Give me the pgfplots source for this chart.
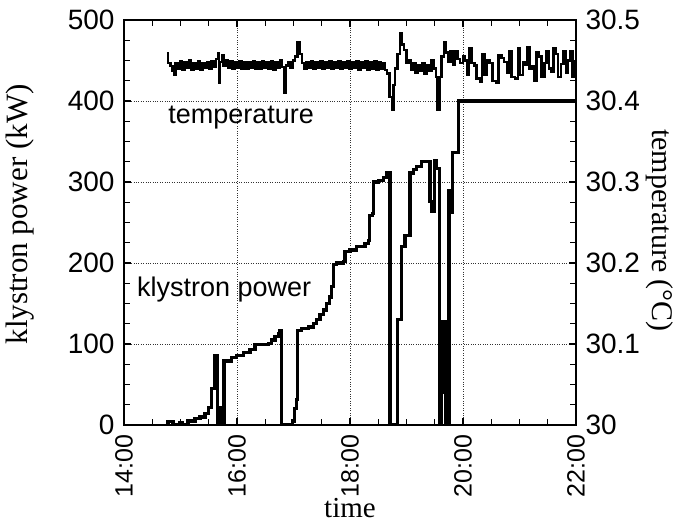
\documentclass[border=0pt]{standalone}
\usepackage{fontspec}
\setmainfont{Liberation Serif}
\newfontfamily\hv{Liberation Sans}
\usepackage{pgfplots}
\pgfplotsset{compat=1.18}

% klystron power (kW), value held from each time (h) on
\pgfplotstableread{
t p
14.743 0
14.779 4
14.867 0
14.991 3
15.027 0
15.133 5
15.257 8
15.345 10
15.434 14
15.492 22
15.552 45
15.611 86
15.651 0
15.687 22
15.711 0
15.770 79
15.906 83
15.995 86
16.112 90
16.230 93
16.319 99
16.554 101
16.614 105
16.673 109
16.731 113
16.761 117
16.791 0
16.986 5
17.020 20
17.057 31
17.067 117
17.145 119
17.262 121
17.350 125
17.411 130
17.469 136
17.527 142
17.588 150
17.634 158
17.676 171
17.703 198
17.765 200
17.881 202
17.912 214
18.000 216
18.119 220
18.265 224
18.324 228
18.342 259
18.400 261
18.412 300
18.501 302
18.589 306
18.649 311
18.708 0
18.837 130
18.915 220
18.973 234
19.062 311
19.120 315
19.181 319
19.269 325
19.416 276
19.450 264
19.490 327
19.534 317
19.580 0
19.611 40
19.640 128
19.690 0
19.752 290
19.788 262
19.818 336
19.917 400
22.000 400
}\power

% temperature (C)
\pgfplotstableread{
t T
14.76 30.459
14.78 30.447
14.82 30.443
14.86 30.437
14.88 30.432
14.91 30.447
14.95 30.440
14.99 30.449
15.03 30.439
15.07 30.448
15.11 30.441
15.15 30.450
15.19 30.438
15.23 30.447
15.27 30.440
15.31 30.449
15.35 30.439
15.39 30.447
15.43 30.441
15.47 30.448
15.51 30.440
15.55 30.449
15.59 30.442
15.63 30.452
15.66 30.459
15.68 30.422
15.70 30.448
15.73 30.457
15.76 30.444
15.80 30.450
15.84 30.441
15.88 30.449
15.92 30.440
15.96 30.448
16.00 30.441
16.04 30.449
16.08 30.440
16.12 30.448
16.16 30.440
16.20 30.448
16.24 30.441
16.28 30.449
16.32 30.440
16.36 30.448
16.40 30.440
16.44 30.449
16.48 30.441
16.52 30.448
16.56 30.440
16.60 30.449
16.64 30.439
16.68 30.448
16.72 30.441
16.76 30.450
16.80 30.442
16.84 30.410
16.87 30.444
16.91 30.448
16.95 30.441
16.99 30.450
17.03 30.455
17.07 30.472
17.11 30.458
17.15 30.447
17.19 30.440
17.23 30.448
17.27 30.441
17.31 30.449
17.35 30.440
17.39 30.448
17.43 30.441
17.47 30.449
17.51 30.440
17.55 30.448
17.59 30.441
17.63 30.449
17.67 30.440
17.71 30.448
17.75 30.441
17.79 30.449
17.83 30.440
17.87 30.448
17.91 30.441
17.95 30.449
17.99 30.440
18.03 30.448
18.07 30.441
18.11 30.449
18.15 30.439
18.19 30.448
18.23 30.441
18.27 30.449
18.31 30.439
18.35 30.448
18.39 30.440
18.43 30.449
18.47 30.439
18.51 30.448
18.55 30.440
18.59 30.447
18.62 30.438
18.66 30.434
18.70 30.405
18.74 30.389
18.77 30.420
18.80 30.440
18.84 30.458
18.88 30.484
18.92 30.470
18.96 30.463
19.00 30.447
19.04 30.450
19.08 30.439
19.12 30.447
19.16 30.435
19.20 30.444
19.24 30.437
19.28 30.447
19.32 30.433
19.36 30.444
19.40 30.437
19.44 30.450
19.48 30.440
19.52 30.430
19.55 30.389
19.59 30.430
19.62 30.455
19.66 30.472
19.70 30.460
19.74 30.448
19.78 30.462
19.82 30.445
19.86 30.462
19.90 30.452
19.95 30.447
20.00 30.455
20.04 30.450
20.08 30.432
20.11 30.465
20.15 30.447
20.20 30.444
20.24 30.428
20.30 30.424
20.34 30.458
20.38 30.432
20.42 30.450
20.47 30.447
20.52 30.425
20.58 30.422
20.63 30.456
20.68 30.453
20.73 30.448
20.78 30.435
20.82 30.462
20.86 30.430
20.92 30.428
20.97 30.465
21.01 30.432
21.06 30.448
21.10 30.445
21.14 30.467
21.18 30.440
21.22 30.443
21.26 30.425
21.30 30.460
21.34 30.455
21.39 30.430
21.44 30.447
21.48 30.462
21.52 30.440
21.56 30.436
21.60 30.465
21.64 30.458
21.68 30.430
21.73 30.446
21.78 30.462
21.82 30.435
21.86 30.450
21.90 30.462
21.94 30.430
21.98 30.448
22.00 30.448
}\temp

\begin{document}
\begin{tikzpicture}
\pgfplotsset{
  base/.style={
    width=452bp, height=405bp, scale only axis,
    xmin=14, xmax=22,
    tick align=inside,
    major tick length=7bp, minor tick length=6bp,
    every tick/.style={black, line width=1.4bp},
    axis line style={line width=1.6bp},
    ticklabel style={font=\hv\fontsize{28bp}{30bp}\selectfont},
    /pgf/number format/assume math mode=true,
  }
}
\begin{axis}[base, name=main,
  ymin=0, ymax=500,
  xtick={14,16,18,20,22},
  xticklabels={14:00,16:00,18:00,20:00,22:00},
  minor x tick num=3,
  x tick label style={rotate=90, anchor=east, font=\hv\fontsize{25bp}{30bp}\selectfont},
  xticklabel shift=6bp,
  yticklabel shift=6bp,
  ytick={0,100,200,300,400,500},
  minor y tick num=3,
  grid=major,
  major grid style={black!80, dotted, line width=0.7bp},
  xlabel={time},
  ylabel={klystron power (kW)},
  every axis x label/.style={at={(axis description cs:0.5,-0.205)}, anchor=center,
    font=\fontsize{29bp}{32bp}\selectfont},
  every axis y label/.style={at={(axis description cs:-0.23,0.52)}, anchor=center, rotate=90,
    font=\fontsize{31bp}{34bp}\selectfont},
]
\addplot[const plot, black, line width=3.2bp] table[x=t, y=p] {\power};
\node[anchor=west, inner sep=0, font=\hv\fontsize{27bp}{30bp}\selectfont]
  at (axis cs:14.78,379) {temperature};
\node[anchor=west, inner sep=0, font=\hv\fontsize{27bp}{30bp}\selectfont]
  at (axis cs:14.23,167) {klystron power};
\end{axis}

\begin{axis}[base,
  ymin=30, ymax=30.5,
  hide x axis,
  axis y line*=right,
  yticklabel shift=6bp,
  ytick={30,30.1,30.2,30.3,30.4,30.5},
  yticklabels={30,30.1,30.2,30.3,30.4,30.5},
  minor y tick num=3,
  ylabel={temperature (°C)},
  every axis y label/.style={at={(axis description cs:1.186,0.48)}, anchor=center, rotate=-90,
    font=\fontsize{30bp}{33bp}\selectfont},
]
\addplot[const plot, black, line width=2.4bp] table[x=t, y=T] {\temp};
\end{axis}

\path ([xshift=-124bp,yshift=-98bp]main.south west) rectangle ([xshift=107bp,yshift=20bp]main.north east);
\end{tikzpicture}
\end{document}
